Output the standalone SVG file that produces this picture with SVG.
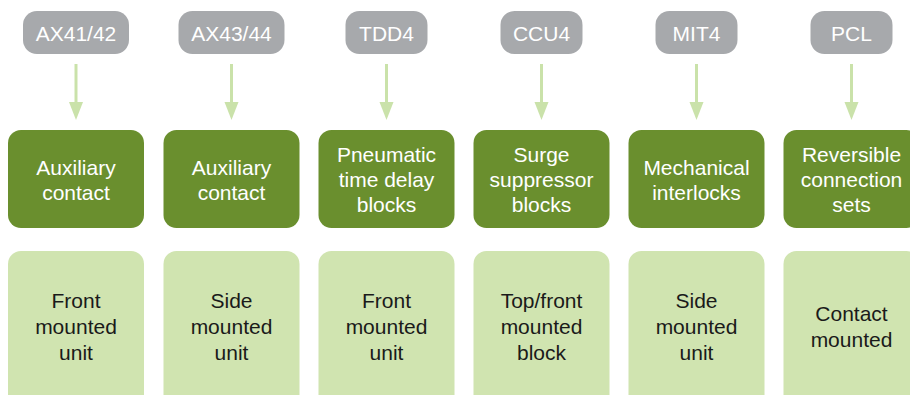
<svg xmlns="http://www.w3.org/2000/svg" width="910" height="395" viewBox="0 0 910 395">
<defs>
<style>
.pill{fill:#A7A9AC}
.ptxt{fill:#FFFFFF;font-family:"Liberation Sans",Arial,sans-serif;font-size:21px;text-anchor:middle}
.cat{fill:#6A8F2E}
.ctxt{fill:#FFFFFF;font-family:"Liberation Sans",Arial,sans-serif;font-size:21px;text-anchor:middle}
.mnt{fill:#D0E4B0}
.mtxt{fill:#1A1A1A;font-family:"Liberation Sans",Arial,sans-serif;font-size:21px;text-anchor:middle}
.conn{stroke:#CAE2AA;stroke-width:3;fill:none}
.head{fill:#CAE2AA}
</style>
</defs>
<rect width="910" height="395" fill="#FFFFFF"/>
<g id="connectors">
<line class="conn" x1="76" y1="64" x2="76" y2="103"/><polygon class="head" points="69,102 83,102 76,120"/>
<line class="conn" x1="231.5" y1="64" x2="231.5" y2="103"/><polygon class="head" points="224.5,102 238.5,102 231.5,120"/>
<line class="conn" x1="386.5" y1="64" x2="386.5" y2="103"/><polygon class="head" points="379.5,102 393.5,102 386.5,120"/>
<line class="conn" x1="541.5" y1="64" x2="541.5" y2="103"/><polygon class="head" points="534.5,102 548.5,102 541.5,120"/>
<line class="conn" x1="696.5" y1="64" x2="696.5" y2="103"/><polygon class="head" points="689.5,102 703.5,102 696.5,120"/>
<line class="conn" x1="851.5" y1="64" x2="851.5" y2="103"/><polygon class="head" points="844.5,102 858.5,102 851.5,120"/>
</g>
<g id="code-ax4142"><rect class="pill" x="23" y="11" width="106" height="43" rx="14"/><text class="ptxt" x="76" y="40.5">AX41/42</text></g>
<g id="code-ax4344"><rect class="pill" x="178.5" y="11" width="106" height="43" rx="14"/><text class="ptxt" x="231.5" y="40.5">AX43/44</text></g>
<g id="code-tdd4"><rect class="pill" x="345.5" y="11" width="82" height="43" rx="14"/><text class="ptxt" x="386.5" y="40.5">TDD4</text></g>
<g id="code-ccu4"><rect class="pill" x="500.5" y="11" width="82" height="43" rx="14"/><text class="ptxt" x="541.5" y="40.5">CCU4</text></g>
<g id="code-mit4"><rect class="pill" x="655.5" y="11" width="82" height="43" rx="14"/><text class="ptxt" x="696.5" y="40.5">MIT4</text></g>
<g id="code-pcl"><rect class="pill" x="810.5" y="11" width="82" height="43" rx="14"/><text class="ptxt" x="851.5" y="40.5">PCL</text></g>

<g id="cat-aux1"><rect class="cat" x="8" y="130" width="136" height="98" rx="13"/><text class="ctxt"><tspan x="76" y="175">Auxiliary</tspan><tspan x="76" y="200">contact</tspan></text></g>
<g id="cat-aux2"><rect class="cat" x="163.5" y="130" width="136" height="98" rx="13"/><text class="ctxt"><tspan x="231.5" y="175">Auxiliary</tspan><tspan x="231.5" y="200">contact</tspan></text></g>
<g id="cat-pneu"><rect class="cat" x="318.5" y="130" width="136" height="98" rx="13"/><text class="ctxt"><tspan x="386.5" y="162">Pneumatic</tspan><tspan x="386.5" y="187">time delay</tspan><tspan x="386.5" y="212">blocks</tspan></text></g>
<g id="cat-surge"><rect class="cat" x="473.5" y="130" width="136" height="98" rx="13"/><text class="ctxt"><tspan x="541.5" y="162">Surge</tspan><tspan x="541.5" y="187">suppressor</tspan><tspan x="541.5" y="212">blocks</tspan></text></g>
<g id="cat-mech"><rect class="cat" x="628.5" y="130" width="136" height="98" rx="13"/><text class="ctxt"><tspan x="696.5" y="175">Mechanical</tspan><tspan x="696.5" y="200">interlocks</tspan></text></g>
<g id="cat-rev"><rect class="cat" x="783.5" y="130" width="136" height="98" rx="13"/><text class="ctxt"><tspan x="851.5" y="162">Reversible</tspan><tspan x="851.5" y="187">connection</tspan><tspan x="851.5" y="212">sets</tspan></text></g>

<g id="mnt-1"><rect class="mnt" x="8" y="251" width="136" height="160" rx="13"/><text class="mtxt"><tspan x="76" y="308">Front</tspan><tspan x="76" y="334">mounted</tspan><tspan x="76" y="360">unit</tspan></text></g>
<g id="mnt-2"><rect class="mnt" x="163.5" y="251" width="136" height="160" rx="13"/><text class="mtxt"><tspan x="231.5" y="308">Side</tspan><tspan x="231.5" y="334">mounted</tspan><tspan x="231.5" y="360">unit</tspan></text></g>
<g id="mnt-3"><rect class="mnt" x="318.5" y="251" width="136" height="160" rx="13"/><text class="mtxt"><tspan x="386.5" y="308">Front</tspan><tspan x="386.5" y="334">mounted</tspan><tspan x="386.5" y="360">unit</tspan></text></g>
<g id="mnt-4"><rect class="mnt" x="473.5" y="251" width="136" height="160" rx="13"/><text class="mtxt"><tspan x="541.5" y="308">Top/front</tspan><tspan x="541.5" y="334">mounted</tspan><tspan x="541.5" y="360">block</tspan></text></g>
<g id="mnt-5"><rect class="mnt" x="628.5" y="251" width="136" height="160" rx="13"/><text class="mtxt"><tspan x="696.5" y="308">Side</tspan><tspan x="696.5" y="334">mounted</tspan><tspan x="696.5" y="360">unit</tspan></text></g>
<g id="mnt-6"><rect class="mnt" x="783.5" y="251" width="136" height="160" rx="13"/><text class="mtxt"><tspan x="851.5" y="321">Contact</tspan><tspan x="851.5" y="347">mounted</tspan></text></g>
</svg>
